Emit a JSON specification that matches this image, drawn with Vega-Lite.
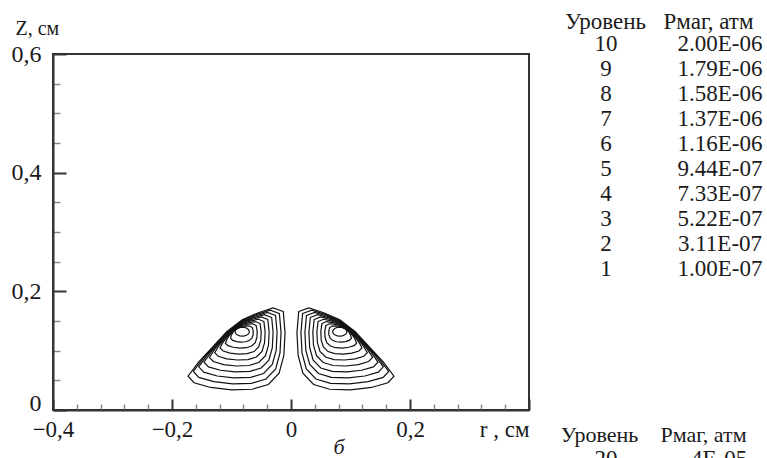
{
"$schema":"https://vega.github.io/schema/vega-lite/v6.json",
"padding":{"left":10,"top":10,"right":0,"bottom":0},
"config":{"font":"Liberation Serif","view":{"stroke":null},"text":{"font":"Liberation Serif"},"axis":{"grid":false,"labelFont":"Liberation Serif","titleFont":"Liberation Serif","labelColor":"#1a1a1a","titleColor":"#1a1a1a","titleFontWeight":"normal"}},
"columns":2,
"align":"none",
"spacing":25,
"concat":[
{
"width":476,"height":356,
"view":{"stroke":"#333","strokeWidth":2},
"title":{"text":"б","orient":"bottom","anchor":"middle","frame":"group","dx":48,"offset":-9,"fontStyle":"italic","fontWeight":"normal","fontSize":22,"color":"#1a1a1a","font":"Liberation Serif"},
"data":{"values":[
{"lobe":"R","ring":1,"i":1,"r":0.013,"z":0.166},{"lobe":"R","ring":1,"i":2,"r":0.030,"z":0.172},{"lobe":"R","ring":1,"i":3,"r":0.055,"z":0.164},{"lobe":"R","ring":1,"i":4,"r":0.082,"z":0.152},{"lobe":"R","ring":1,"i":5,"r":0.108,"z":0.132},{"lobe":"R","ring":1,"i":6,"r":0.132,"z":0.106},{"lobe":"R","ring":1,"i":7,"r":0.155,"z":0.081},{"lobe":"R","ring":1,"i":8,"r":0.173,"z":0.057},{"lobe":"R","ring":1,"i":9,"r":0.163,"z":0.046},{"lobe":"R","ring":1,"i":10,"r":0.135,"z":0.038},{"lobe":"R","ring":1,"i":11,"r":0.100,"z":0.034},{"lobe":"R","ring":1,"i":12,"r":0.065,"z":0.035},{"lobe":"R","ring":1,"i":13,"r":0.038,"z":0.043},{"lobe":"R","ring":1,"i":14,"r":0.020,"z":0.062},{"lobe":"R","ring":1,"i":15,"r":0.012,"z":0.092},{"lobe":"R","ring":1,"i":16,"r":0.010,"z":0.130},
{"lobe":"R","ring":2,"i":1,"r":0.0195,"z":0.1626},{"lobe":"R","ring":2,"i":2,"r":0.0349,"z":0.1682},{"lobe":"R","ring":2,"i":3,"r":0.0575,"z":0.1612},{"lobe":"R","ring":2,"i":4,"r":0.0822,"z":0.1506},{"lobe":"R","ring":2,"i":5,"r":0.1061,"z":0.1325},{"lobe":"R","ring":2,"i":6,"r":0.1278,"z":0.1090},{"lobe":"R","ring":2,"i":7,"r":0.1482,"z":0.0865},{"lobe":"R","ring":2,"i":8,"r":0.1641,"z":0.0649},{"lobe":"R","ring":2,"i":9,"r":0.1549,"z":0.0549},{"lobe":"R","ring":2,"i":10,"r":0.1296,"z":0.0477},{"lobe":"R","ring":2,"i":11,"r":0.0980,"z":0.0440},{"lobe":"R","ring":2,"i":12,"r":0.0664,"z":0.0450},{"lobe":"R","ring":2,"i":13,"r":0.0420,"z":0.0522},{"lobe":"R","ring":2,"i":14,"r":0.0257,"z":0.0694},{"lobe":"R","ring":2,"i":15,"r":0.0185,"z":0.0963},{"lobe":"R","ring":2,"i":16,"r":0.0167,"z":0.1304},
{"lobe":"R","ring":3,"i":1,"r":0.0260,"z":0.1593},{"lobe":"R","ring":3,"i":2,"r":0.0398,"z":0.1644},{"lobe":"R","ring":3,"i":3,"r":0.0601,"z":0.1585},{"lobe":"R","ring":3,"i":4,"r":0.0825,"z":0.1492},{"lobe":"R","ring":3,"i":5,"r":0.1043,"z":0.1331},{"lobe":"R","ring":3,"i":6,"r":0.1235,"z":0.1121},{"lobe":"R","ring":3,"i":7,"r":0.1414,"z":0.0920},{"lobe":"R","ring":3,"i":8,"r":0.1551,"z":0.0728},{"lobe":"R","ring":3,"i":9,"r":0.1467,"z":0.0638},{"lobe":"R","ring":3,"i":10,"r":0.1241,"z":0.0573},{"lobe":"R","ring":3,"i":11,"r":0.0960,"z":0.0541},{"lobe":"R","ring":3,"i":12,"r":0.0679,"z":0.0550},{"lobe":"R","ring":3,"i":13,"r":0.0461,"z":0.0615},{"lobe":"R","ring":3,"i":14,"r":0.0315,"z":0.0767},{"lobe":"R","ring":3,"i":15,"r":0.0249,"z":0.1006},{"lobe":"R","ring":3,"i":16,"r":0.0234,"z":0.1307},
{"lobe":"R","ring":4,"i":1,"r":0.0325,"z":0.1559},{"lobe":"R","ring":4,"i":2,"r":0.0448,"z":0.1606},{"lobe":"R","ring":4,"i":3,"r":0.0626,"z":0.1557},{"lobe":"R","ring":4,"i":4,"r":0.0827,"z":0.1478},{"lobe":"R","ring":4,"i":5,"r":0.1024,"z":0.1336},{"lobe":"R","ring":4,"i":6,"r":0.1193,"z":0.1151},{"lobe":"R","ring":4,"i":7,"r":0.1346,"z":0.0976},{"lobe":"R","ring":4,"i":8,"r":0.1462,"z":0.0807},{"lobe":"R","ring":4,"i":9,"r":0.1386,"z":0.0727},{"lobe":"R","ring":4,"i":10,"r":0.1187,"z":0.0670},{"lobe":"R","ring":4,"i":11,"r":0.0940,"z":0.0641},{"lobe":"R","ring":4,"i":12,"r":0.0693,"z":0.0650},{"lobe":"R","ring":4,"i":13,"r":0.0501,"z":0.0708},{"lobe":"R","ring":4,"i":14,"r":0.0372,"z":0.0841},{"lobe":"R","ring":4,"i":15,"r":0.0314,"z":0.1049},{"lobe":"R","ring":4,"i":16,"r":0.0301,"z":0.1311},
{"lobe":"R","ring":5,"i":1,"r":0.0390,"z":0.1526},{"lobe":"R","ring":5,"i":2,"r":0.0497,"z":0.1568},{"lobe":"R","ring":5,"i":3,"r":0.0652,"z":0.1529},{"lobe":"R","ring":5,"i":4,"r":0.0829,"z":0.1464},{"lobe":"R","ring":5,"i":5,"r":0.1005,"z":0.1341},{"lobe":"R","ring":5,"i":6,"r":0.1150,"z":0.1181},{"lobe":"R","ring":5,"i":7,"r":0.1278,"z":0.1031},{"lobe":"R","ring":5,"i":8,"r":0.1372,"z":0.0887},{"lobe":"R","ring":5,"i":9,"r":0.1305,"z":0.0817},{"lobe":"R","ring":5,"i":10,"r":0.1133,"z":0.0766},{"lobe":"R","ring":5,"i":11,"r":0.0920,"z":0.0742},{"lobe":"R","ring":5,"i":12,"r":0.0707,"z":0.0750},{"lobe":"R","ring":5,"i":13,"r":0.0541,"z":0.0800},{"lobe":"R","ring":5,"i":14,"r":0.0429,"z":0.0915},{"lobe":"R","ring":5,"i":15,"r":0.0378,"z":0.1092},{"lobe":"R","ring":5,"i":16,"r":0.0367,"z":0.1315},
{"lobe":"R","ring":6,"i":1,"r":0.0456,"z":0.1492},{"lobe":"R","ring":6,"i":2,"r":0.0546,"z":0.1529},{"lobe":"R","ring":6,"i":3,"r":0.0677,"z":0.1502},{"lobe":"R","ring":6,"i":4,"r":0.0832,"z":0.1450},{"lobe":"R","ring":6,"i":5,"r":0.0987,"z":0.1347},{"lobe":"R","ring":6,"i":6,"r":0.1108,"z":0.1212},{"lobe":"R","ring":6,"i":7,"r":0.1210,"z":0.1086},{"lobe":"R","ring":6,"i":8,"r":0.1282,"z":0.0966},{"lobe":"R","ring":6,"i":9,"r":0.1223,"z":0.0906},{"lobe":"R","ring":6,"i":10,"r":0.1078,"z":0.0863},{"lobe":"R","ring":6,"i":11,"r":0.0900,"z":0.0843},{"lobe":"R","ring":6,"i":12,"r":0.0722,"z":0.0850},{"lobe":"R","ring":6,"i":13,"r":0.0582,"z":0.0893},{"lobe":"R","ring":6,"i":14,"r":0.0487,"z":0.0989},{"lobe":"R","ring":6,"i":15,"r":0.0444,"z":0.1135},{"lobe":"R","ring":6,"i":16,"r":0.0435,"z":0.1318},
{"lobe":"R","ring":7,"i":1,"r":0.0521,"z":0.1459},{"lobe":"R","ring":7,"i":2,"r":0.0595,"z":0.1491},{"lobe":"R","ring":7,"i":3,"r":0.0703,"z":0.1474},{"lobe":"R","ring":7,"i":4,"r":0.0834,"z":0.1436},{"lobe":"R","ring":7,"i":5,"r":0.0968,"z":0.1352},{"lobe":"R","ring":7,"i":6,"r":0.1065,"z":0.1242},{"lobe":"R","ring":7,"i":7,"r":0.1142,"z":0.1141},{"lobe":"R","ring":7,"i":8,"r":0.1193,"z":0.1045},{"lobe":"R","ring":7,"i":9,"r":0.1141,"z":0.0995},{"lobe":"R","ring":7,"i":10,"r":0.1024,"z":0.0960},{"lobe":"R","ring":7,"i":11,"r":0.0880,"z":0.0943},{"lobe":"R","ring":7,"i":12,"r":0.0736,"z":0.0950},{"lobe":"R","ring":7,"i":13,"r":0.0622,"z":0.0985},{"lobe":"R","ring":7,"i":14,"r":0.0544,"z":0.1062},{"lobe":"R","ring":7,"i":15,"r":0.0508,"z":0.1178},{"lobe":"R","ring":7,"i":16,"r":0.0501,"z":0.1322},
{"lobe":"R","ring":8,"i":1,"r":0.0586,"z":0.1425},{"lobe":"R","ring":8,"i":2,"r":0.0645,"z":0.1453},{"lobe":"R","ring":8,"i":3,"r":0.0728,"z":0.1446},{"lobe":"R","ring":8,"i":4,"r":0.0836,"z":0.1422},{"lobe":"R","ring":8,"i":5,"r":0.0949,"z":0.1357},{"lobe":"R","ring":8,"i":6,"r":0.1023,"z":0.1272},{"lobe":"R","ring":8,"i":7,"r":0.1074,"z":0.1197},{"lobe":"R","ring":8,"i":8,"r":0.1103,"z":0.1125},{"lobe":"R","ring":8,"i":9,"r":0.1060,"z":0.1085},{"lobe":"R","ring":8,"i":10,"r":0.0970,"z":0.1057},{"lobe":"R","ring":8,"i":11,"r":0.0860,"z":0.1044},{"lobe":"R","ring":8,"i":12,"r":0.0750,"z":0.1050},{"lobe":"R","ring":8,"i":13,"r":0.0662,"z":0.1078},{"lobe":"R","ring":8,"i":14,"r":0.0601,"z":0.1136},{"lobe":"R","ring":8,"i":15,"r":0.0573,"z":0.1221},{"lobe":"R","ring":8,"i":16,"r":0.0568,"z":0.1326},
{"lobe":"R","ring":9,"i":1,"r":0.0651,"z":0.1392},{"lobe":"R","ring":9,"i":2,"r":0.0694,"z":0.1415},{"lobe":"R","ring":9,"i":3,"r":0.0754,"z":0.1419},{"lobe":"R","ring":9,"i":4,"r":0.0839,"z":0.1408},{"lobe":"R","ring":9,"i":5,"r":0.0931,"z":0.1363},{"lobe":"R","ring":9,"i":6,"r":0.0980,"z":0.1303},{"lobe":"R","ring":9,"i":7,"r":0.1006,"z":0.1252},{"lobe":"R","ring":9,"i":8,"r":0.1014,"z":0.1204},{"lobe":"R","ring":9,"i":9,"r":0.0978,"z":0.1174},{"lobe":"R","ring":9,"i":10,"r":0.0915,"z":0.1153},{"lobe":"R","ring":9,"i":11,"r":0.0840,"z":0.1144},{"lobe":"R","ring":9,"i":12,"r":0.0765,"z":0.1150},{"lobe":"R","ring":9,"i":13,"r":0.0703,"z":0.1170},{"lobe":"R","ring":9,"i":14,"r":0.0659,"z":0.1209},{"lobe":"R","ring":9,"i":15,"r":0.0637,"z":0.1264},{"lobe":"R","ring":9,"i":16,"r":0.0635,"z":0.1329},
{"lobe":"R","ring":10,"i":1,"r":0.0716,"z":0.1358},{"lobe":"R","ring":10,"i":2,"r":0.0743,"z":0.1377},{"lobe":"R","ring":10,"i":3,"r":0.0779,"z":0.1391},{"lobe":"R","ring":10,"i":4,"r":0.0841,"z":0.1394},{"lobe":"R","ring":10,"i":5,"r":0.0912,"z":0.1368},{"lobe":"R","ring":10,"i":6,"r":0.0938,"z":0.1333},{"lobe":"R","ring":10,"i":7,"r":0.0938,"z":0.1307},{"lobe":"R","ring":10,"i":8,"r":0.0924,"z":0.1283},{"lobe":"R","ring":10,"i":9,"r":0.0897,"z":0.1263},{"lobe":"R","ring":10,"i":10,"r":0.0861,"z":0.1250},{"lobe":"R","ring":10,"i":11,"r":0.0820,"z":0.1245},{"lobe":"R","ring":10,"i":12,"r":0.0779,"z":0.1250},{"lobe":"R","ring":10,"i":13,"r":0.0743,"z":0.1263},{"lobe":"R","ring":10,"i":14,"r":0.0716,"z":0.1283},{"lobe":"R","ring":10,"i":15,"r":0.0702,"z":0.1307},{"lobe":"R","ring":10,"i":16,"r":0.0702,"z":0.1333},
{"lobe":"L","ring":1,"i":1,"r":-0.013,"z":0.166},{"lobe":"L","ring":1,"i":2,"r":-0.030,"z":0.172},{"lobe":"L","ring":1,"i":3,"r":-0.055,"z":0.164},{"lobe":"L","ring":1,"i":4,"r":-0.082,"z":0.152},{"lobe":"L","ring":1,"i":5,"r":-0.108,"z":0.132},{"lobe":"L","ring":1,"i":6,"r":-0.132,"z":0.106},{"lobe":"L","ring":1,"i":7,"r":-0.155,"z":0.081},{"lobe":"L","ring":1,"i":8,"r":-0.173,"z":0.057},{"lobe":"L","ring":1,"i":9,"r":-0.163,"z":0.046},{"lobe":"L","ring":1,"i":10,"r":-0.135,"z":0.038},{"lobe":"L","ring":1,"i":11,"r":-0.100,"z":0.034},{"lobe":"L","ring":1,"i":12,"r":-0.065,"z":0.035},{"lobe":"L","ring":1,"i":13,"r":-0.038,"z":0.043},{"lobe":"L","ring":1,"i":14,"r":-0.020,"z":0.062},{"lobe":"L","ring":1,"i":15,"r":-0.012,"z":0.092},{"lobe":"L","ring":1,"i":16,"r":-0.010,"z":0.130},
{"lobe":"L","ring":2,"i":1,"r":-0.0195,"z":0.1626},{"lobe":"L","ring":2,"i":2,"r":-0.0349,"z":0.1682},{"lobe":"L","ring":2,"i":3,"r":-0.0575,"z":0.1612},{"lobe":"L","ring":2,"i":4,"r":-0.0822,"z":0.1506},{"lobe":"L","ring":2,"i":5,"r":-0.1061,"z":0.1325},{"lobe":"L","ring":2,"i":6,"r":-0.1278,"z":0.1090},{"lobe":"L","ring":2,"i":7,"r":-0.1482,"z":0.0865},{"lobe":"L","ring":2,"i":8,"r":-0.1641,"z":0.0649},{"lobe":"L","ring":2,"i":9,"r":-0.1549,"z":0.0549},{"lobe":"L","ring":2,"i":10,"r":-0.1296,"z":0.0477},{"lobe":"L","ring":2,"i":11,"r":-0.0980,"z":0.0440},{"lobe":"L","ring":2,"i":12,"r":-0.0664,"z":0.0450},{"lobe":"L","ring":2,"i":13,"r":-0.0420,"z":0.0522},{"lobe":"L","ring":2,"i":14,"r":-0.0257,"z":0.0694},{"lobe":"L","ring":2,"i":15,"r":-0.0185,"z":0.0963},{"lobe":"L","ring":2,"i":16,"r":-0.0167,"z":0.1304},
{"lobe":"L","ring":3,"i":1,"r":-0.0260,"z":0.1593},{"lobe":"L","ring":3,"i":2,"r":-0.0398,"z":0.1644},{"lobe":"L","ring":3,"i":3,"r":-0.0601,"z":0.1585},{"lobe":"L","ring":3,"i":4,"r":-0.0825,"z":0.1492},{"lobe":"L","ring":3,"i":5,"r":-0.1043,"z":0.1331},{"lobe":"L","ring":3,"i":6,"r":-0.1235,"z":0.1121},{"lobe":"L","ring":3,"i":7,"r":-0.1414,"z":0.0920},{"lobe":"L","ring":3,"i":8,"r":-0.1551,"z":0.0728},{"lobe":"L","ring":3,"i":9,"r":-0.1467,"z":0.0638},{"lobe":"L","ring":3,"i":10,"r":-0.1241,"z":0.0573},{"lobe":"L","ring":3,"i":11,"r":-0.0960,"z":0.0541},{"lobe":"L","ring":3,"i":12,"r":-0.0679,"z":0.0550},{"lobe":"L","ring":3,"i":13,"r":-0.0461,"z":0.0615},{"lobe":"L","ring":3,"i":14,"r":-0.0315,"z":0.0767},{"lobe":"L","ring":3,"i":15,"r":-0.0249,"z":0.1006},{"lobe":"L","ring":3,"i":16,"r":-0.0234,"z":0.1307},
{"lobe":"L","ring":4,"i":1,"r":-0.0325,"z":0.1559},{"lobe":"L","ring":4,"i":2,"r":-0.0448,"z":0.1606},{"lobe":"L","ring":4,"i":3,"r":-0.0626,"z":0.1557},{"lobe":"L","ring":4,"i":4,"r":-0.0827,"z":0.1478},{"lobe":"L","ring":4,"i":5,"r":-0.1024,"z":0.1336},{"lobe":"L","ring":4,"i":6,"r":-0.1193,"z":0.1151},{"lobe":"L","ring":4,"i":7,"r":-0.1346,"z":0.0976},{"lobe":"L","ring":4,"i":8,"r":-0.1462,"z":0.0807},{"lobe":"L","ring":4,"i":9,"r":-0.1386,"z":0.0727},{"lobe":"L","ring":4,"i":10,"r":-0.1187,"z":0.0670},{"lobe":"L","ring":4,"i":11,"r":-0.0940,"z":0.0641},{"lobe":"L","ring":4,"i":12,"r":-0.0693,"z":0.0650},{"lobe":"L","ring":4,"i":13,"r":-0.0501,"z":0.0708},{"lobe":"L","ring":4,"i":14,"r":-0.0372,"z":0.0841},{"lobe":"L","ring":4,"i":15,"r":-0.0314,"z":0.1049},{"lobe":"L","ring":4,"i":16,"r":-0.0301,"z":0.1311},
{"lobe":"L","ring":5,"i":1,"r":-0.0390,"z":0.1526},{"lobe":"L","ring":5,"i":2,"r":-0.0497,"z":0.1568},{"lobe":"L","ring":5,"i":3,"r":-0.0652,"z":0.1529},{"lobe":"L","ring":5,"i":4,"r":-0.0829,"z":0.1464},{"lobe":"L","ring":5,"i":5,"r":-0.1005,"z":0.1341},{"lobe":"L","ring":5,"i":6,"r":-0.1150,"z":0.1181},{"lobe":"L","ring":5,"i":7,"r":-0.1278,"z":0.1031},{"lobe":"L","ring":5,"i":8,"r":-0.1372,"z":0.0887},{"lobe":"L","ring":5,"i":9,"r":-0.1305,"z":0.0817},{"lobe":"L","ring":5,"i":10,"r":-0.1133,"z":0.0766},{"lobe":"L","ring":5,"i":11,"r":-0.0920,"z":0.0742},{"lobe":"L","ring":5,"i":12,"r":-0.0707,"z":0.0750},{"lobe":"L","ring":5,"i":13,"r":-0.0541,"z":0.0800},{"lobe":"L","ring":5,"i":14,"r":-0.0429,"z":0.0915},{"lobe":"L","ring":5,"i":15,"r":-0.0378,"z":0.1092},{"lobe":"L","ring":5,"i":16,"r":-0.0367,"z":0.1315},
{"lobe":"L","ring":6,"i":1,"r":-0.0456,"z":0.1492},{"lobe":"L","ring":6,"i":2,"r":-0.0546,"z":0.1529},{"lobe":"L","ring":6,"i":3,"r":-0.0677,"z":0.1502},{"lobe":"L","ring":6,"i":4,"r":-0.0832,"z":0.1450},{"lobe":"L","ring":6,"i":5,"r":-0.0987,"z":0.1347},{"lobe":"L","ring":6,"i":6,"r":-0.1108,"z":0.1212},{"lobe":"L","ring":6,"i":7,"r":-0.1210,"z":0.1086},{"lobe":"L","ring":6,"i":8,"r":-0.1282,"z":0.0966},{"lobe":"L","ring":6,"i":9,"r":-0.1223,"z":0.0906},{"lobe":"L","ring":6,"i":10,"r":-0.1078,"z":0.0863},{"lobe":"L","ring":6,"i":11,"r":-0.0900,"z":0.0843},{"lobe":"L","ring":6,"i":12,"r":-0.0722,"z":0.0850},{"lobe":"L","ring":6,"i":13,"r":-0.0582,"z":0.0893},{"lobe":"L","ring":6,"i":14,"r":-0.0487,"z":0.0989},{"lobe":"L","ring":6,"i":15,"r":-0.0444,"z":0.1135},{"lobe":"L","ring":6,"i":16,"r":-0.0435,"z":0.1318},
{"lobe":"L","ring":7,"i":1,"r":-0.0521,"z":0.1459},{"lobe":"L","ring":7,"i":2,"r":-0.0595,"z":0.1491},{"lobe":"L","ring":7,"i":3,"r":-0.0703,"z":0.1474},{"lobe":"L","ring":7,"i":4,"r":-0.0834,"z":0.1436},{"lobe":"L","ring":7,"i":5,"r":-0.0968,"z":0.1352},{"lobe":"L","ring":7,"i":6,"r":-0.1065,"z":0.1242},{"lobe":"L","ring":7,"i":7,"r":-0.1142,"z":0.1141},{"lobe":"L","ring":7,"i":8,"r":-0.1193,"z":0.1045},{"lobe":"L","ring":7,"i":9,"r":-0.1141,"z":0.0995},{"lobe":"L","ring":7,"i":10,"r":-0.1024,"z":0.0960},{"lobe":"L","ring":7,"i":11,"r":-0.0880,"z":0.0943},{"lobe":"L","ring":7,"i":12,"r":-0.0736,"z":0.0950},{"lobe":"L","ring":7,"i":13,"r":-0.0622,"z":0.0985},{"lobe":"L","ring":7,"i":14,"r":-0.0544,"z":0.1062},{"lobe":"L","ring":7,"i":15,"r":-0.0508,"z":0.1178},{"lobe":"L","ring":7,"i":16,"r":-0.0501,"z":0.1322},
{"lobe":"L","ring":8,"i":1,"r":-0.0586,"z":0.1425},{"lobe":"L","ring":8,"i":2,"r":-0.0645,"z":0.1453},{"lobe":"L","ring":8,"i":3,"r":-0.0728,"z":0.1446},{"lobe":"L","ring":8,"i":4,"r":-0.0836,"z":0.1422},{"lobe":"L","ring":8,"i":5,"r":-0.0949,"z":0.1357},{"lobe":"L","ring":8,"i":6,"r":-0.1023,"z":0.1272},{"lobe":"L","ring":8,"i":7,"r":-0.1074,"z":0.1197},{"lobe":"L","ring":8,"i":8,"r":-0.1103,"z":0.1125},{"lobe":"L","ring":8,"i":9,"r":-0.1060,"z":0.1085},{"lobe":"L","ring":8,"i":10,"r":-0.0970,"z":0.1057},{"lobe":"L","ring":8,"i":11,"r":-0.0860,"z":0.1044},{"lobe":"L","ring":8,"i":12,"r":-0.0750,"z":0.1050},{"lobe":"L","ring":8,"i":13,"r":-0.0662,"z":0.1078},{"lobe":"L","ring":8,"i":14,"r":-0.0601,"z":0.1136},{"lobe":"L","ring":8,"i":15,"r":-0.0573,"z":0.1221},{"lobe":"L","ring":8,"i":16,"r":-0.0568,"z":0.1326},
{"lobe":"L","ring":9,"i":1,"r":-0.0651,"z":0.1392},{"lobe":"L","ring":9,"i":2,"r":-0.0694,"z":0.1415},{"lobe":"L","ring":9,"i":3,"r":-0.0754,"z":0.1419},{"lobe":"L","ring":9,"i":4,"r":-0.0839,"z":0.1408},{"lobe":"L","ring":9,"i":5,"r":-0.0931,"z":0.1363},{"lobe":"L","ring":9,"i":6,"r":-0.0980,"z":0.1303},{"lobe":"L","ring":9,"i":7,"r":-0.1006,"z":0.1252},{"lobe":"L","ring":9,"i":8,"r":-0.1014,"z":0.1204},{"lobe":"L","ring":9,"i":9,"r":-0.0978,"z":0.1174},{"lobe":"L","ring":9,"i":10,"r":-0.0915,"z":0.1153},{"lobe":"L","ring":9,"i":11,"r":-0.0840,"z":0.1144},{"lobe":"L","ring":9,"i":12,"r":-0.0765,"z":0.1150},{"lobe":"L","ring":9,"i":13,"r":-0.0703,"z":0.1170},{"lobe":"L","ring":9,"i":14,"r":-0.0659,"z":0.1209},{"lobe":"L","ring":9,"i":15,"r":-0.0637,"z":0.1264},{"lobe":"L","ring":9,"i":16,"r":-0.0635,"z":0.1329},
{"lobe":"L","ring":10,"i":1,"r":-0.0716,"z":0.1358},{"lobe":"L","ring":10,"i":2,"r":-0.0743,"z":0.1377},{"lobe":"L","ring":10,"i":3,"r":-0.0779,"z":0.1391},{"lobe":"L","ring":10,"i":4,"r":-0.0841,"z":0.1394},{"lobe":"L","ring":10,"i":5,"r":-0.0912,"z":0.1368},{"lobe":"L","ring":10,"i":6,"r":-0.0938,"z":0.1333},{"lobe":"L","ring":10,"i":7,"r":-0.0938,"z":0.1307},{"lobe":"L","ring":10,"i":8,"r":-0.0924,"z":0.1283},{"lobe":"L","ring":10,"i":9,"r":-0.0897,"z":0.1263},{"lobe":"L","ring":10,"i":10,"r":-0.0861,"z":0.1250},{"lobe":"L","ring":10,"i":11,"r":-0.0820,"z":0.1245},{"lobe":"L","ring":10,"i":12,"r":-0.0779,"z":0.1250},{"lobe":"L","ring":10,"i":13,"r":-0.0743,"z":0.1263},{"lobe":"L","ring":10,"i":14,"r":-0.0716,"z":0.1283},{"lobe":"L","ring":10,"i":15,"r":-0.0702,"z":0.1307},{"lobe":"L","ring":10,"i":16,"r":-0.0702,"z":0.1333}
]},
"mark":{"type":"line","interpolate":"linear-closed","color":"#111","strokeWidth":1.2},
"encoding":{
"x":{"field":"r","type":"quantitative","scale":{"domain":[-0.4,0.4],"nice":false,"zero":false},
"axis":{"values":[-0.4,-0.36,-0.32,-0.28,-0.24,-0.2,-0.16,-0.12,-0.08,-0.04,0,0.04,0.08,0.12,0.16,0.2,0.24,0.28,0.32,0.36,0.4],
"tickSize":{"condition":{"test":"abs(datum.value*5 - round(datum.value*5)) < 0.01","value":-11},"value":-6},
"tickColor":{"condition":{"test":"abs(datum.value*5 - round(datum.value*5)) < 0.01","value":"#333"},"value":"#888"},
"tickWidth":{"condition":{"test":"abs(datum.value*5 - round(datum.value*5)) < 0.01","value":2},"value":1.5},
"labelExpr":"abs(datum.value*5 - round(datum.value*5)) < 0.01 && datum.value < 0.39 ? (abs(datum.value) < 0.001 ? '0' : replace(format(datum.value, '.1f'), '.', ',')) : ''",
"labelFont":"Liberation Serif","labelFontSize":23,"labelPadding":19,"labelOverlap":false,"labelFlush":false,
"domainColor":"#333","domainWidth":2,
"title":"r , см","titleFont":"Liberation Serif","titleFontSize":23,"titleAnchor":"end","titleAlign":"right","titleBaseline":"alphabetic","titleX":476,"titleY":26}},
"y":{"field":"z","type":"quantitative","scale":{"domain":[0,0.6],"nice":false,"zero":false},
"axis":{"values":[0,0.05,0.1,0.15,0.2,0.25,0.3,0.35,0.4,0.45,0.5,0.55,0.6],
"tickSize":{"condition":{"test":"abs(datum.value*5 - round(datum.value*5)) < 0.01","value":-13},"value":-7},
"tickColor":{"condition":{"test":"abs(datum.value*5 - round(datum.value*5)) < 0.01","value":"#333"},"value":"#888"},
"tickWidth":{"condition":{"test":"abs(datum.value*5 - round(datum.value*5)) < 0.01","value":2},"value":1.5},
"labelExpr":"abs(datum.value*5 - round(datum.value*5)) < 0.01 ? (abs(datum.value) < 0.001 ? '0' : replace(format(datum.value, '.1f'), '.', ',')) : ''",
"labelBaseline":{"condition":{"test":"abs(datum.value) < 0.001","value":"alphabetic"},"value":"middle"},
"labelFont":"Liberation Serif","labelFontSize":24,"labelPadding":25,"labelOverlap":false,"labelFlush":false,
"domainColor":"#333","domainWidth":2,
"title":["","Z, см"],"titleFont":"Liberation Serif","titleLineHeight":7,"titleFontSize":20,"titleAngle":0,"titleAlign":"left","titleBaseline":"alphabetic","titleX":-38,"titleY":-26.5}},
"detail":[{"field":"lobe"},{"field":"ring"}],
"order":{"field":"i","type":"quantitative"}
}
},
{
"spacing":120,
"vconcat":[
{
"width":201,"height":249,
"data":{"values":[{"level":10,"p":"2.00E-06"},{"level":9,"p":"1.79E-06"},{"level":8,"p":"1.58E-06"},{"level":7,"p":"1.37E-06"},{"level":6,"p":"1.16E-06"},{"level":5,"p":"9.44E-07"},{"level":4,"p":"7.33E-07"},{"level":3,"p":"5.22E-07"},{"level":2,"p":"3.11E-07"},{"level":1,"p":"1.00E-07"}]},
"encoding":{"y":{"field":"level","type":"ordinal","sort":"descending","scale":{"type":"point","padding":0.5},"axis":null}},
"layer":[
{"mark":{"type":"text","font":"Liberation Serif","fontSize":23,"dx":1,"dy":-22,"color":"#1a1a1a"},
"encoding":{"x":{"datum":"Уровень","type":"nominal","scale":{"type":"point","domain":["Уровень","Pмаг, атм"],"padding":0.476},"axis":{"orient":"top","offset":21,"domain":false,"ticks":false,"labelFont":"Liberation Serif","labelFontSize":23,"labelPadding":0,"labelAngle":0,"title":null}},"text":{"field":"level","type":"nominal"}}},
{"mark":{"type":"text","font":"Liberation Serif","fontSize":23,"dx":12,"dy":-22,"color":"#1a1a1a"},
"encoding":{"x":{"datum":"Pмаг, атм","type":"nominal","scale":{"type":"point","domain":["Уровень","Pмаг, атм"],"padding":0.476}},"text":{"field":"p","type":"nominal"}}}
]
},
{
"width":190,"height":25,
"data":{"values":[{"level":20,"p":"4E-05"}]},
"encoding":{"y":{"field":"level","type":"ordinal","scale":{"type":"point","padding":0.5},"axis":null}},
"layer":[
{"mark":{"type":"text","font":"Liberation Serif","fontSize":23,"dx":7,"color":"#1a1a1a"},
"encoding":{"x":{"datum":"Уровень","type":"nominal","scale":{"type":"point","domain":["Уровень","Pмаг, атм"],"padding":0.413},"axis":{"orient":"top","domain":false,"ticks":false,"labelFont":"Liberation Serif","labelFontSize":22,"labelPadding":0,"labelAngle":0,"title":null}},"text":{"field":"level","type":"nominal"}}},
{"mark":{"type":"text","font":"Liberation Serif","fontSize":23,"dx":16,"color":"#1a1a1a"},
"encoding":{"x":{"datum":"Pмаг, атм","type":"nominal","scale":{"type":"point","domain":["Уровень","Pмаг, атм"],"padding":0.413}},"text":{"field":"p","type":"nominal"}}}
]
}
]
}
]
}
